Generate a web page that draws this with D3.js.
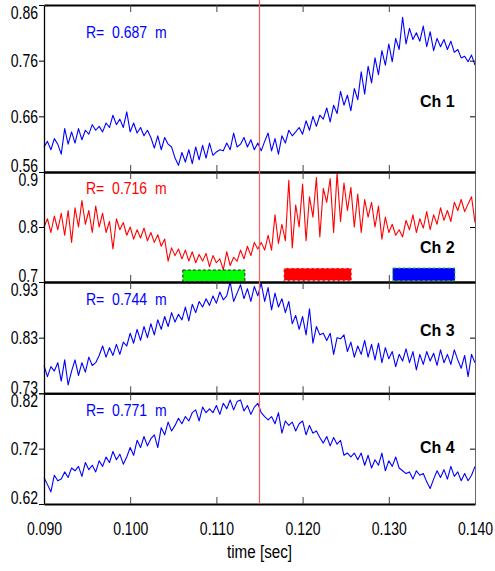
<!DOCTYPE html>
<html>
<head>
<meta charset="utf-8">
<script src="https://cdnjs.cloudflare.com/ajax/libs/d3/7.8.5/d3.min.js"></script>
<style>
  body { margin: 0; background: #fff; }
  svg { display: block; font-family: "Liberation Sans", Arial, sans-serif; }
</style>
</head>
<body>
<svg width="495" height="571"></svg>
<script>
// sample times: 0.090 .. 0.140 s, every 0.4 ms
var sampleTimes = d3.range(126).map(function(i) { return 0.090 + i * 0.0004; });

var ch1 = [0.605,0.615,0.600,0.620,0.610,0.592,0.638,0.610,0.632,0.612,
  0.638,0.618,0.635,0.628,0.645,0.635,0.642,0.632,0.648,0.640,
  0.662,0.645,0.655,0.640,0.668,0.632,0.648,0.630,0.640,0.625,
  0.635,0.622,0.603,0.625,0.600,0.622,0.610,0.605,0.585,0.572,
  0.595,0.578,0.600,0.575,0.605,0.582,0.608,0.585,0.612,0.590,
  0.596,0.600,0.598,0.612,0.600,0.630,0.605,0.610,0.622,0.605,
  0.618,0.600,0.612,0.598,0.615,0.630,0.598,0.620,0.592,0.625,
  0.612,0.635,0.625,0.632,0.640,0.628,0.652,0.635,0.660,0.642,
  0.662,0.655,0.675,0.650,0.680,0.665,0.705,0.680,0.698,0.670,
  0.710,0.690,0.740,0.700,0.750,0.720,0.765,0.735,0.778,0.752,
  0.790,0.758,0.800,0.780,0.838,0.790,0.818,0.798,0.810,0.795,
  0.822,0.785,0.812,0.778,0.800,0.785,0.798,0.780,0.795,0.775,
  0.780,0.765,0.768,0.758,0.770,0.752];

var ch2 = [0.800,0.815,0.790,0.820,0.795,0.825,0.785,0.830,0.772,0.835,
  0.800,0.848,0.805,0.830,0.790,0.838,0.800,0.825,0.790,0.810,
  0.760,0.815,0.795,0.808,0.785,0.800,0.778,0.795,0.780,0.798,
  0.775,0.790,0.772,0.786,0.765,0.778,0.738,0.762,0.748,0.760,
  0.742,0.758,0.738,0.755,0.735,0.750,0.738,0.752,0.728,0.748,
  0.735,0.742,0.722,0.755,0.730,0.745,0.738,0.758,0.742,0.765,
  0.748,0.772,0.760,0.772,0.758,0.785,0.758,0.822,0.770,0.805,
  0.775,0.885,0.762,0.840,0.800,0.878,0.775,0.855,0.818,0.890,
  0.782,0.870,0.845,0.888,0.790,0.898,0.810,0.880,0.830,0.872,
  0.800,0.860,0.790,0.850,0.818,0.845,0.800,0.838,0.778,0.818,
  0.790,0.805,0.785,0.795,0.782,0.812,0.795,0.822,0.790,0.815,
  0.798,0.828,0.795,0.822,0.805,0.835,0.812,0.830,0.810,0.845,
  0.830,0.850,0.828,0.842,0.855,0.808];

var ch3 = [0.780,0.760,0.778,0.770,0.785,0.752,0.790,0.745,0.770,0.790,
  0.762,0.785,0.768,0.795,0.780,0.785,0.798,0.815,0.795,0.812,
  0.798,0.818,0.800,0.822,0.815,0.838,0.820,0.845,0.825,0.850,
  0.830,0.855,0.835,0.862,0.845,0.868,0.850,0.875,0.858,0.872,
  0.862,0.885,0.860,0.890,0.875,0.895,0.885,0.900,0.888,0.905,
  0.892,0.912,0.898,0.905,0.930,0.895,0.910,0.925,0.900,0.918,
  0.895,0.922,0.905,0.928,0.895,0.920,0.880,0.910,0.885,0.900,
  0.875,0.895,0.855,0.870,0.845,0.868,0.835,0.882,0.820,0.850,
  0.835,0.838,0.825,0.838,0.800,0.830,0.828,0.835,0.805,0.822,
  0.795,0.815,0.800,0.825,0.795,0.818,0.790,0.820,0.785,0.812,
  0.792,0.805,0.778,0.800,0.788,0.810,0.785,0.805,0.772,0.800,
  0.782,0.805,0.788,0.802,0.780,0.808,0.785,0.800,0.782,0.808,
  0.790,0.775,0.798,0.760,0.800,0.785];

var ch4 = [0.668,0.655,0.642,0.672,0.662,0.665,0.678,0.668,0.685,0.680,
  0.688,0.670,0.695,0.682,0.690,0.678,0.698,0.688,0.705,0.695,
  0.715,0.700,0.710,0.692,0.705,0.722,0.708,0.735,0.722,0.742,
  0.725,0.738,0.745,0.722,0.758,0.745,0.768,0.752,0.762,0.775,
  0.765,0.778,0.770,0.785,0.790,0.770,0.795,0.785,0.792,0.785,
  0.798,0.782,0.802,0.792,0.808,0.790,0.805,0.808,0.788,0.798,
  0.782,0.795,0.802,0.785,0.778,0.772,0.778,0.765,0.785,0.748,
  0.770,0.762,0.768,0.752,0.765,0.770,0.745,0.762,0.748,0.752,
  0.740,0.730,0.742,0.725,0.740,0.728,0.735,0.708,0.712,0.705,
  0.712,0.700,0.712,0.690,0.708,0.685,0.700,0.690,0.712,0.680,
  0.698,0.688,0.705,0.685,0.680,0.675,0.678,0.665,0.680,0.672,
  0.675,0.660,0.648,0.665,0.680,0.668,0.682,0.665,0.688,0.670,
  0.678,0.662,0.675,0.662,0.672,0.688];

var channels = ["Ch 1", "Ch 2", "Ch 3", "Ch 4"];
var radii = ["R=  0.687  m", "R=  0.716  m", "R=  0.744  m", "R=  0.771  m"];
var seriesColors = ["#0000ff", "#ff0000", "#0000ff", "#0000ff"];
var yDomains = [[0.56, 0.86], [0.70, 0.90], [0.73, 0.93], [0.62, 0.82]];
var yTicks = [[0.56, 0.66, 0.76, 0.86], [0.7, 0.8, 0.9], [0.73, 0.83, 0.93], [0.62, 0.72, 0.82]];
var xTicks = [0.090, 0.100, 0.110, 0.120, 0.130, 0.140];
var markTime = 0.115;

// time windows marked on channel 2
var boxStart = [0.1061, 0.1178, 0.13045];
var boxEnd = [0.1133, 0.1257, 0.13768];
var boxLow = [0.7005, 0.7020, 0.7020];
var boxHigh = [0.7218, 0.7255, 0.7255];
var boxFill = ["#00ff00", "#ff0000", "#0000ff"];
var boxEdge = ["#222", "#ffffff", "#33dd33"];

var allSeries = [ch1, ch2, ch3, ch4];

// layout
var svg = d3.select("svg"),
    left = 44, right = 475,
    panelTop = [5, 172, 282, 393.3],
    panelBottom = [172, 282, 393.3, 504],
    rLabelDy = [33, 21.5, 23, 22.5],
    chLabelDy = [65, 29.3, 57.3, 50.7],
    sx = 0.78;

var x = d3.scaleLinear().domain([0.090, 0.140]).range([left, right]);
var yFmt = d3.format("~g");

allSeries.forEach(function(values, p) {
    var y = d3.scaleLinear().domain(yDomains[p]).range([panelBottom[p], panelTop[p]]);
    var g = svg.append("g");

    // data line
    var line = d3.line()
        .x(function(d, i) { return x(sampleTimes[i]); })
        .y(function(d) { return y(d); });
    g.append("path")
        .attr("d", line(values))
        .attr("fill", "none")
        .attr("stroke", seriesColors[p])
        .attr("stroke-width", 1.1)
        .attr("stroke-linejoin", "round");

    // right edge with inward ticks
    var ra = g.append("g")
        .attr("transform", "translate(" + right + ",0)")
        .call(d3.axisLeft(y).tickValues(yTicks[p]).tickSize(5).tickSizeOuter(0).tickFormat(""));
    ra.select(".domain").attr("stroke", "#666");

    // top + bottom inward ticks
    var inner = xTicks.slice(1, -1);
    g.append("g")
        .attr("transform", "translate(0," + panelTop[p] + ")")
        .call(d3.axisBottom(x).tickValues(inner).tickSize(7).tickSizeOuter(0).tickFormat(""))
        .call(function(a) {
            a.select(".domain").attr("stroke", "#000").attr("stroke-width", 2);
            a.selectAll(".tick line").attr("stroke", "#444");
        });
    g.append("g")
        .attr("transform", "translate(0," + panelBottom[p] + ")")
        .call(d3.axisTop(x).tickValues(inner).tickSize(7).tickSizeOuter(0).tickFormat(""))
        .call(function(a) {
            a.select(".domain").attr("stroke", "#000").attr("stroke-width", 2);
            a.selectAll(".tick line").attr("stroke", "#444");
        });

    // left axis
    var la = g.append("g")
        .attr("transform", "translate(" + left + ",0)")
        .call(d3.axisLeft(y).tickValues(yTicks[p]).tickSize(5).tickSizeOuter(0).tickFormat(yFmt));
    la.select(".domain").attr("stroke-width", 1.3);
    var lo = yDomains[p][0], hi = yDomains[p][1];
    la.selectAll(".tick text")
        .attr("font-family", "Liberation Sans, Arial, sans-serif")
        .attr("font-size", 18)
        .attr("fill", "#000")
        .attr("x", -6 / sx)
        .attr("y", function(d) { return Math.abs(d - hi) < 1e-9 ? 7.5 : (Math.abs(d - lo) < 1e-9 ? -6 : 0); })
        .attr("transform", "scale(" + sx + ",1)");

    // R label
    g.append("text")
        .attr("transform", "translate(86," + (panelTop[p] + rLabelDy[p]) + ") scale(0.85,1)")
        .style("white-space", "pre")
        .attr("font-size", 16.5)
        .attr("fill", seriesColors[p])
        .text(radii[p]);

    // channel label
    g.append("text")
        .attr("x", 420)
        .attr("y", panelBottom[p] - chLabelDy[p])
        .attr("font-size", 16)
        .attr("font-weight", "bold")
        .attr("fill", "#000")
        .text(channels[p]);

    if (p === 1) {
        boxStart.forEach(function(t0, b) {
            g.append("rect")
                .attr("x", x(t0))
                .attr("y", y(boxHigh[b]))
                .attr("width", x(boxEnd[b]) - x(t0))
                .attr("height", y(boxLow[b]) - y(boxHigh[b]))
                .attr("fill", boxFill[b])
                .attr("stroke", boxEdge[b])
                .attr("stroke-width", 1)
                .attr("stroke-dasharray", "3,2");
        });
    }
});

// x tick labels under the last panel
svg.append("g")
    .attr("transform", "translate(0," + panelBottom[3] + ")")
    .call(d3.axisBottom(x).tickValues(xTicks).tickSize(0).tickFormat(d3.format(".3f")))
    .call(function(a) {
        a.select(".domain").remove();
        a.selectAll(".tick text")
            .attr("font-family", "Liberation Sans, Arial, sans-serif")
            .attr("font-size", 18)
            .attr("fill", "#000")
            .attr("y", 31)
            .attr("dy", 0)
            .attr("transform", "scale(" + sx + ",1)");
    });

svg.append("text")
    .attr("transform", "translate(" + ((left + right) / 2) + ",558) scale(0.8,1)")
    .attr("text-anchor", "middle")
    .attr("font-size", 19)
    .attr("fill", "#000")
    .text("time [sec]");

// marker line
svg.append("line")
    .attr("x1", x(markTime)).attr("x2", x(markTime))
    .attr("y1", 0).attr("y2", panelBottom[3])
    .attr("stroke", "#f06060")
    .attr("stroke-width", 1.2);
</script>
</body>
</html>
